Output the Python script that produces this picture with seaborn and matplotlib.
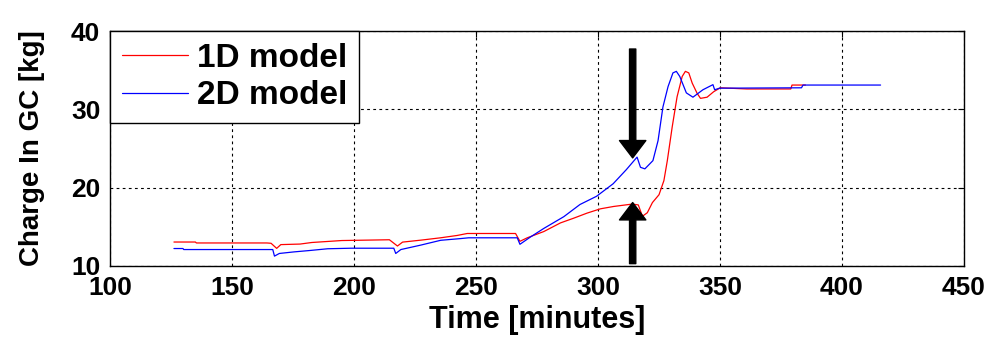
import pandas as pd
import matplotlib
matplotlib.use("Agg")
import matplotlib.pyplot as plt
import seaborn as sns

# ==============================
# DATA
# ==============================
t_1d = [126.2, 135.0, 135.4, 164.3, 166.0, 168.3, 170.0, 177.9, 182.7, 195.0,
        214.5, 217.8, 219.9, 227.4, 235.5, 242.3, 246.4, 266.2, 268.0, 271.0,
        277.8, 284.6, 290.0, 295.5, 301.0, 306.4, 313.9, 316.5, 318.2, 320.2,
        322.3, 325.0, 327.0, 328.4, 330.4, 332.4, 334.5, 335.8, 337.2, 338.6,
        340.6, 342.0, 344.7, 347.4, 350.1, 361.0, 379.0, 379.5, 385.0]
q_1d = [13.06, 13.06, 12.94, 12.94, 12.9, 12.25, 12.73, 12.8, 13.0, 13.25,
        13.35, 12.55, 13.05, 13.3, 13.6, 13.9, 14.15, 14.15, 13.15, 13.6,
        14.4, 15.5, 16.1, 16.75, 17.3, 17.6, 17.9, 17.8, 16.35, 16.8,
        18.1, 19.1, 20.9, 23.45, 27.75, 31.6, 34.2, 34.85, 34.65, 33.35,
        32.05, 31.4, 31.55, 32.25, 32.75, 32.6, 32.6, 33.1, 33.1]

t_2d = [126.2, 129.9, 130.2, 166.7, 167.4, 169.4, 175.4, 181.6, 189.2, 198.7,
        216.3, 217.1, 219.2, 227.4, 235.5, 243.7, 247.0, 266.9, 268.0, 272.3,
        277.8, 286.0, 292.6, 299.4, 306.2, 311.6, 316.0, 317.4, 319.2, 322.5,
        324.6, 326.6, 328.7, 330.7, 332.1, 333.5, 336.2, 338.9, 343.0, 347.1,
        347.8, 349.8, 383.4, 384.0, 415.8]
q_2d = [12.23, 12.23, 12.1, 12.1, 11.26, 11.6, 11.8, 11.97, 12.2, 12.27,
        12.27, 11.6, 12.1, 12.67, 13.28, 13.5, 13.6, 13.6, 12.77, 13.7,
        14.8, 16.3, 17.85, 18.9, 20.5, 22.3, 23.9, 22.6, 22.4, 23.45,
        26.0, 30.3, 32.9, 34.65, 34.85, 34.2, 32.1, 31.55, 32.5, 33.15,
        32.5, 32.7, 32.75, 33.1, 33.1]

models = ["1D model", "2D model"]
colors = ["#ff0000", "#0000ff"]

# arrows: (x, tail y, tip y)
arrow_down = (314.2, 37.7, 23.8)
arrow_up = (314.2, 10.3, 18.1)

x_ticks = [100, 150, 200, 250, 300, 350, 400, 450]
y_ticks = [10, 20, 30, 40]

df = pd.concat([
    pd.DataFrame({"time": t_1d, "charge": q_1d, "model": models[0]}),
    pd.DataFrame({"time": t_2d, "charge": q_2d, "model": models[1]}),
], ignore_index=True)

# ==============================
# PLOT
# ==============================
sns.set_style("white")
plt.rcParams["font.family"] = ["Liberation Sans", "DejaVu Sans"]
plt.rcParams["font.weight"] = "bold"
plt.rcParams["text.color"] = "black"
plt.rcParams["axes.labelcolor"] = "black"
plt.rcParams["xtick.color"] = "black"
plt.rcParams["ytick.color"] = "black"

fig = plt.figure(figsize=(9.92, 3.37), dpi=100)
ax = fig.add_axes([0.1109, 0.2107, 0.9718 - 0.1109, 0.908 - 0.2107])

sns.lineplot(data=df, x="time", y="charge", hue="model", palette=colors,
             estimator=None, sort=False, linewidth=0.9, ax=ax)

for x, y0, y1 in (arrow_down, arrow_up):
    ax.annotate("", xy=(x, y1), xytext=(x, y0),
                arrowprops=dict(arrowstyle="simple,head_width=1.9,head_length=1.25,tail_width=0.45",
                                color="black", mutation_scale=10,
                                shrinkA=0, shrinkB=0))

ax.set_xlim(100, 450)
ax.set_ylim(10, 40)
ax.set_xticks(x_ticks)
ax.set_yticks(y_ticks)
ax.grid(True, color="black", linestyle=(0, (2.5, 3.0)), linewidth=0.8)
for s in ax.spines.values():
    s.set_color("black")
    s.set_linewidth(1.0)
ax.tick_params(direction="in", length=4, width=0.8, top=True, right=True,
               labelsize=19, pad=7)
for lab in ax.get_xticklabels() + ax.get_yticklabels():
    lab.set_fontweight("bold")

ax.set_xlabel("Time [minutes]", fontsize=22, fontweight="bold")
ax.set_ylabel("Charge In GC [kg]", fontsize=20, fontweight="bold")
ax.xaxis.set_label_coords(0.5, -0.165)
ax.yaxis.set_label_coords(-0.076, 0.5)

leg = ax.legend(loc="upper left", borderaxespad=0, fontsize=24,
                frameon=True, fancybox=False, framealpha=1, edgecolor="black",
                handlelength=2.0, handletextpad=0.25, labelspacing=0.2,
                borderpad=0.35)
leg.get_frame().set_linewidth(1.0)
for txt in leg.get_texts():
    txt.set_fontweight("bold")

plt.savefig("out.png", dpi=100)
plt.close()
